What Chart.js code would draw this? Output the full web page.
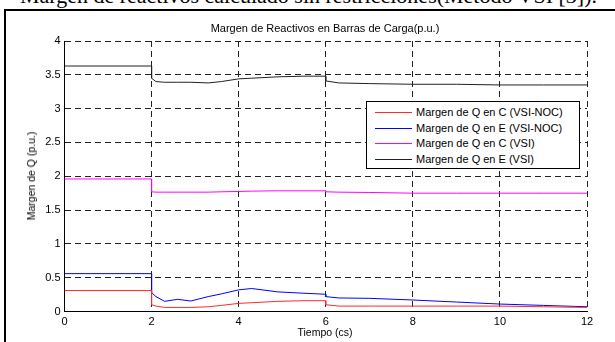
<!DOCTYPE html>
<html>
<head>
<meta charset="utf-8">
<script src="https://cdn.jsdelivr.net/npm/chart.js@4"></script>
<style>
  body { margin: 0; background: #fff; width: 615px; height: 342px; overflow: hidden; position: relative; font-family: "Liberation Sans", Arial, sans-serif; }
  #frame { position: absolute; left: 4px; top: 9px; width: 700px; height: 400px; border-left: 2px solid #000; border-top: 2px solid #000; }
  #caption { position: absolute; right: 18px; top: -17px; font-family: "Liberation Serif", "Times New Roman", serif; font-size: 22px; white-space: nowrap; }
  #wrap { position: absolute; left: 0; top: 0; width: 615px; height: 342px; }
  .txt { position: absolute; font-size: 11px; color: #000; white-space: nowrap; }
  #title { left: 325px; top: 22px; transform: translateX(-50%); }
  #xlab { left: 325px; top: 326px; transform: translateX(-50%); font-size: 10.5px; }
  #ylab { left: 31px; top: 176px; transform: translate(-50%, -50%) rotate(-90deg); font-size: 10.5px; }
  #legend { position: absolute; left: 366px; top: 101px; width: 212px; height: 66px; border: 1.5px solid #000; background: #fff; }
  .item { position: absolute; left: 0; height: 14px; font-size: 11px; }
  .item span.ln { position: absolute; left: 8px; top: 7px; width: 37px; height: 0; border-top: 1px solid; }
  .item span.lb { position: absolute; left: 49px; top: 0; line-height: 14px; white-space: nowrap; }
</style>
</head>
<body>
<div id="frame"></div>
<div id="caption">Margen de reactivos calculado sin restricciones(Método VSI [3]).</div>
<div id="wrap"><canvas id="c" width="615" height="342"></canvas></div>
<div class="txt" id="title">Margen de Reactivos en Barras de Carga(p.u.)</div>
<div class="txt" id="ylab">Margen de Q (p.u.)</div>
<div class="txt" id="xlab">Tiempo (cs)</div>
<div id="legend"></div>
<script>
// tiempo (cs), con los saltos en 2 y 6
const tiempo = [0, 2, 2, 2.1, 2.3, 2.6, 2.9, 3.3, 3.6, 4.0, 4.3, 4.9, 5.5, 6.0, 6.0, 6.3, 7, 8, 9, 10, 11, 12];
const qC_noc = [0.31, 0.31, 0.10, 0.08, 0.06, 0.06, 0.06, 0.07, 0.09, 0.12, 0.13, 0.15, 0.16, 0.16, 0.10, 0.08, 0.08, 0.08, 0.08, 0.08, 0.07, 0.06];
const qE_noc = [0.56, 0.56, 0.28, 0.22, 0.15, 0.18, 0.155, 0.22, 0.26, 0.32, 0.34, 0.29, 0.27, 0.255, 0.22, 0.20, 0.195, 0.17, 0.14, 0.11, 0.09, 0.07];
const qC_vsi = [1.96, 1.96, 1.77, 1.765, 1.765, 1.765, 1.765, 1.765, 1.77, 1.775, 1.78, 1.785, 1.785, 1.785, 1.77, 1.765, 1.76, 1.75, 1.75, 1.75, 1.75, 1.75];
const qE_vsi = [3.63, 3.63, 3.45, 3.40, 3.39, 3.39, 3.39, 3.38, 3.40, 3.44, 3.45, 3.47, 3.48, 3.48, 3.41, 3.38, 3.37, 3.36, 3.36, 3.35, 3.35, 3.35];

const labels = ['Margen de Q en C (VSI-NOC)', 'Margen de Q en E (VSI-NOC)', 'Margen de Q en C (VSI)', 'Margen de Q en E (VSI)'];
const colors = ['#ff2a2a', '#0000ff', '#ff00ff', '#222222'];
const xTicks = [0, 2, 4, 6, 8, 10, 12];
const yTicks = [0, 0.5, 1, 1.5, 2, 2.5, 3, 3.5, 4];

const series = [qC_noc, qE_noc, qC_vsi, qE_vsi];
const datasets = series.map((s, i) => ({
  label: labels[i],
  data: s.map((v, k) => ({ x: tiempo[k], y: v })),
  borderColor: colors[i],
  borderWidth: 1,
  pointRadius: 0,
  tension: 0,
  fill: false
}));

const gridOpts = {
  grid: { color: '#222', lineWidth: 1, drawTicks: false },
  border: { display: true, color: '#000', width: 1, dash: [6, 4] }
};
const tickFont = { family: 'Liberation Sans', size: 11 };

new Chart(document.getElementById('c'), {
  type: 'line',
  data: { datasets },
  options: {
    responsive: false,
    animation: false,
    layout: { padding: { left: 0, top: 41, right: 28, bottom: 0 } },
    plugins: { legend: { display: false }, tooltip: { enabled: false } },
    scales: {
      x: {
        type: 'linear', min: 0, max: 12,
        ...gridOpts,
        afterBuildTicks: s => { s.ticks = xTicks.map(v => ({ value: v })); },
        afterFit: s => { s.height = 30.5; },
        ticks: { color: '#000', padding: 4, font: tickFont, callback: v => String(v) }
      },
      y: {
        min: 0, max: 4,
        ...gridOpts,
        afterBuildTicks: s => { s.ticks = yTicks.map(v => ({ value: v })); },
        afterFit: s => { s.width = 64.5; },
        ticks: { color: '#000', padding: 4, font: tickFont, callback: v => String(v) }
      }
    }
  }
});

// leyenda
const lg = document.getElementById('legend');
const tops = [3, 19, 34, 50];
labels.forEach((l, i) => {
  const d = document.createElement('div');
  d.className = 'item';
  d.style.top = tops[i] + 'px';
  d.innerHTML = '<span class="ln" style="border-color:' + colors[i] + '"></span><span class="lb">' + l + '</span>';
  lg.appendChild(d);
});
</script>
</body>
</html>
